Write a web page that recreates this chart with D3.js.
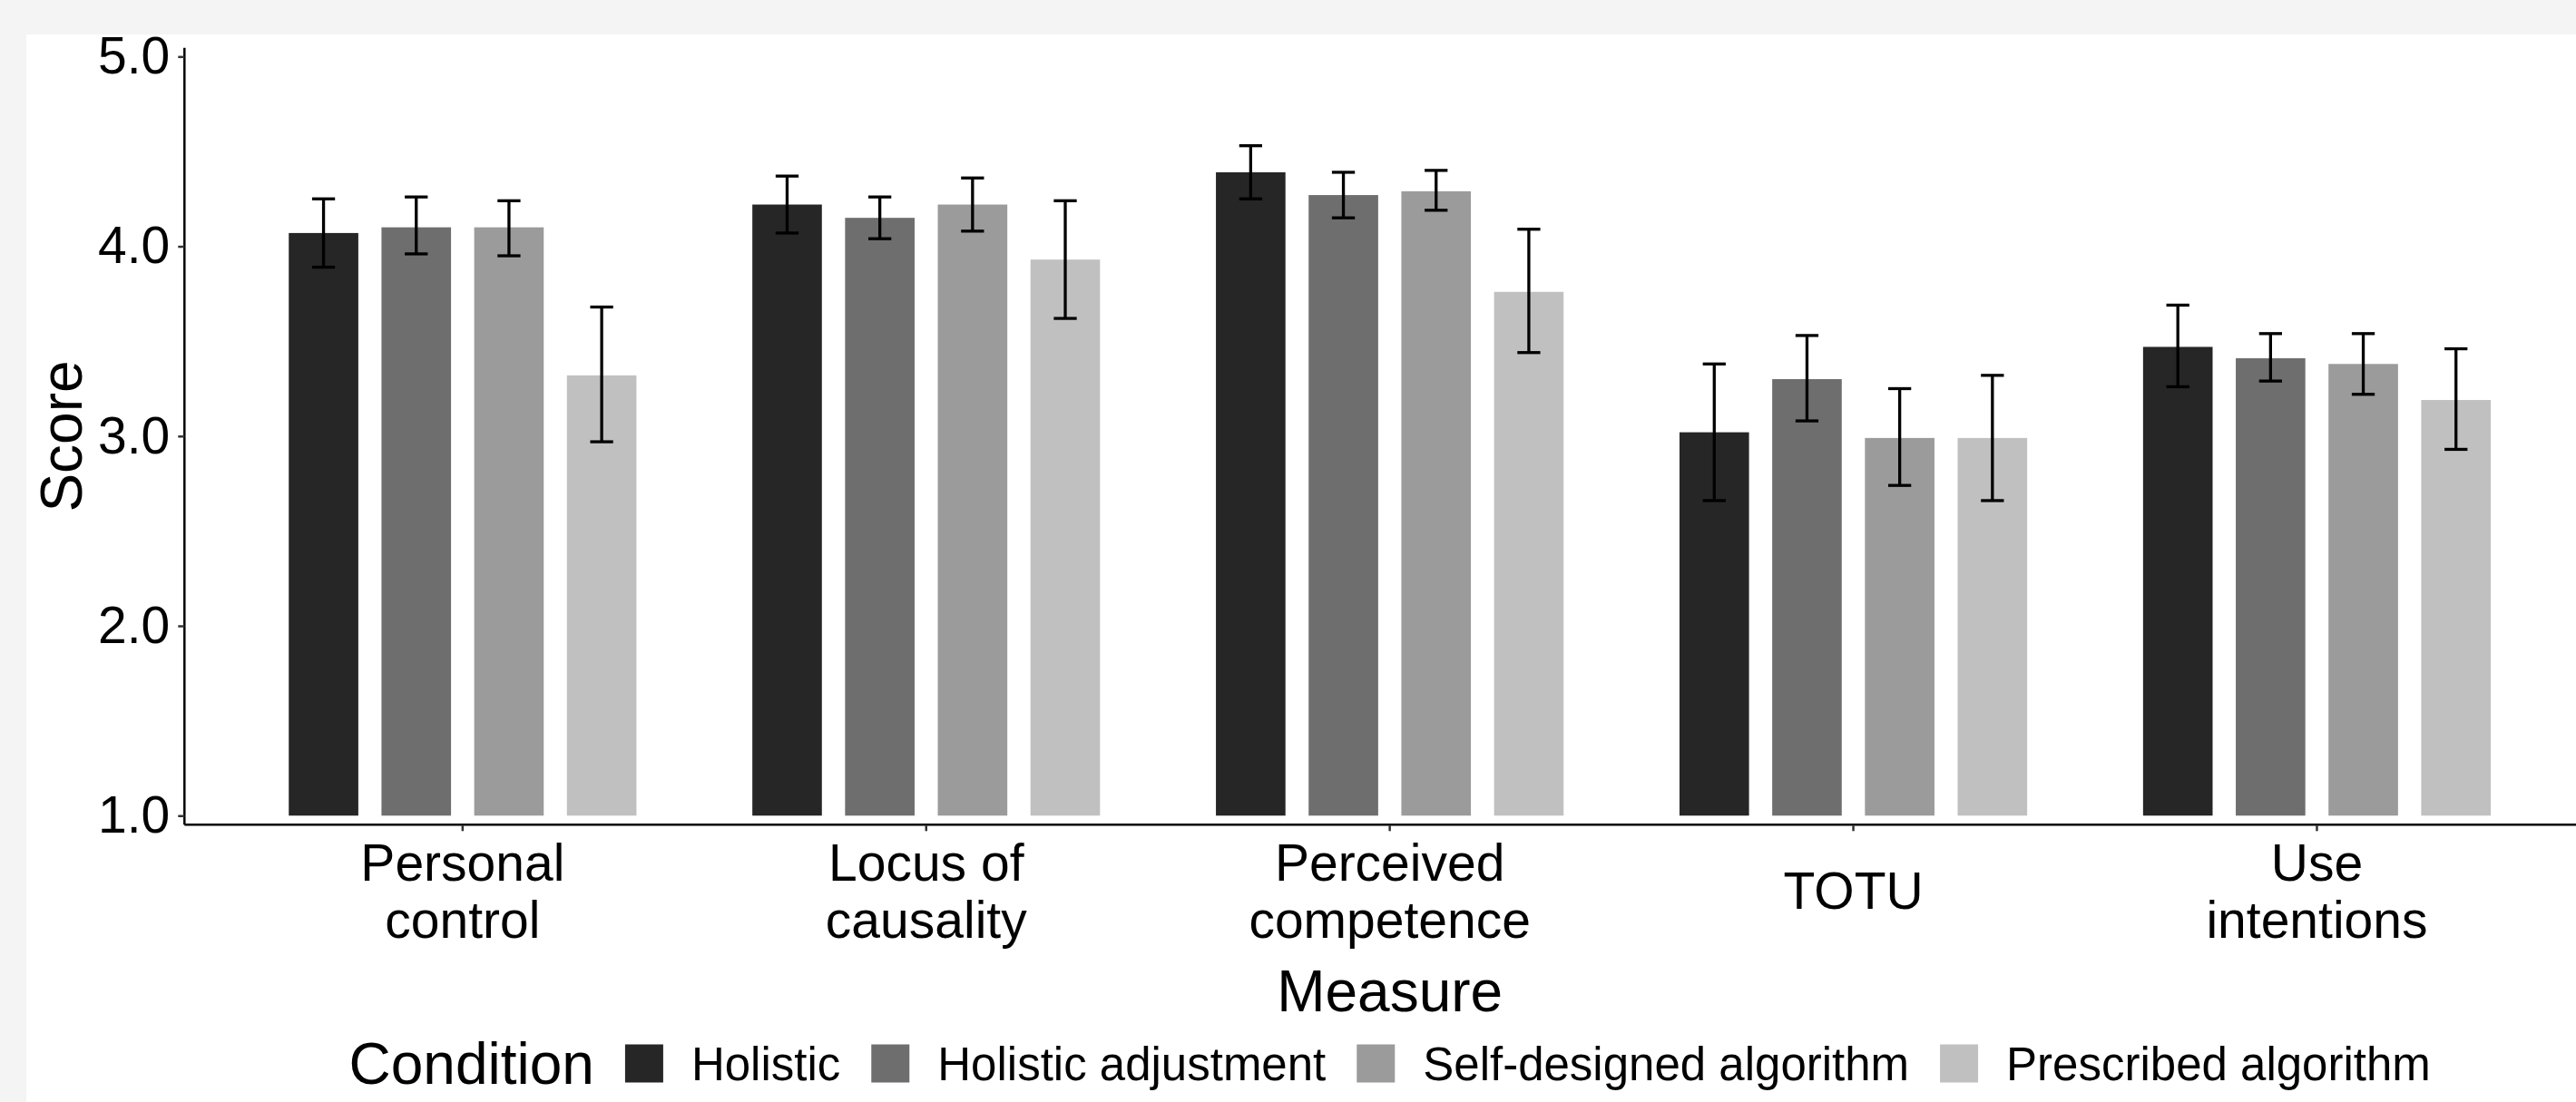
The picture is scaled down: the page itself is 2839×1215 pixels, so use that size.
<!DOCTYPE html>
<html>
<head>
<meta charset="utf-8">
<script src="https://cdn.jsdelivr.net/npm/d3@7"></script>
<style>
  html, body { margin: 0; padding: 0; background: #f4f4f4; overflow: hidden; }
  svg { display: block; }
  text { font-family: "Liberation Sans", Arial, Helvetica, sans-serif; fill: #000; }
</style>
</head>
<body>
<svg id="chart" width="2839" height="1215"></svg>
<script>
// ---- data ----
const measures = ["Personal control", "Locus of causality", "Perceived competence", "TOTU", "Use intentions"];
const measureTickLabels = [["Personal", "control"], ["Locus of", "causality"], ["Perceived", "competence"], ["TOTU"], ["Use", "intentions"]];
const conditions = ["Holistic", "Holistic adjustment", "Self-designed algorithm", "Prescribed algorithm"];
const conditionColors = ["#262626", "#6e6e6e", "#9b9b9b", "#c0c0c0"];

const holisticMean      = [4.07, 4.22, 4.39, 3.02, 3.47];
const holisticLower     = [3.89, 4.07, 4.25, 2.66, 3.26];
const holisticUpper     = [4.25, 4.37, 4.53, 3.38, 3.69];

const adjustmentMean    = [4.10, 4.15, 4.27, 3.30, 3.41];
const adjustmentLower   = [3.96, 4.04, 4.15, 3.08, 3.29];
const adjustmentUpper   = [4.26, 4.26, 4.39, 3.53, 3.54];

const selfDesignedMean  = [4.10, 4.22, 4.29, 2.99, 3.38];
const selfDesignedLower = [3.95, 4.08, 4.19, 2.74, 3.22];
const selfDesignedUpper = [4.24, 4.36, 4.40, 3.25, 3.54];

const prescribedMean    = [3.32, 3.93, 3.76, 2.99, 3.19];
const prescribedLower   = [2.97, 3.62, 3.44, 2.66, 2.93];
const prescribedUpper   = [3.68, 4.24, 4.09, 3.32, 3.46];

const yTicks = [1, 2, 3, 4, 5];
const yTickLabels = ["1.0", "2.0", "3.0", "4.0", "5.0"];
const yTitle = "Score";
const xTitle = "Measure";
const legendTitle = "Condition";

// ---- build records ----
const seriesMeans = [holisticMean, adjustmentMean, selfDesignedMean, prescribedMean];
const seriesLower = [holisticLower, adjustmentLower, selfDesignedLower, prescribedLower];
const seriesUpper = [holisticUpper, adjustmentUpper, selfDesignedUpper, prescribedUpper];
const records = [];
measures.forEach((m, i) => {
  conditions.forEach((c, j) => {
    records.push({ measure: m, condition: c, mean: seriesMeans[j][i], lo: seriesLower[j][i], hi: seriesUpper[j][i], ci: j });
  });
});

// ---- layout ----
const W = 2839, H = 1215;
const svg = d3.select("#chart");
svg.append("rect").attr("x", 0).attr("y", 0).attr("width", W).attr("height", H).attr("fill", "#f4f4f4");
svg.append("rect").attr("x", 29).attr("y", 38).attr("width", W - 29).attr("height", H - 38).attr("fill", "#ffffff");

const plotLeft = 203.3, plotRight = 2860, plotTop = 52.7, plotBottom = 909.3;

const x0 = d3.scaleBand().domain(measures).range([plotLeft, plotRight]).paddingInner(0.2).paddingOuter(0.2);
const x1 = d3.scaleBand().domain(conditions).range([0, x0.bandwidth()]).paddingInner(0.25).paddingOuter(0.125);
const y = d3.scaleLinear().domain([0.952, 5.046]).range([plotBottom, plotTop]);
const color = d3.scaleOrdinal().domain(conditions).range(conditionColors);

// bars
const g = svg.append("g");
g.selectAll("rect.bar").data(records).join("rect")
  .attr("class", "bar")
  .attr("x", d => x0(d.measure) + x1(d.condition))
  .attr("width", x1.bandwidth())
  .attr("y", d => y(d.mean))
  .attr("height", d => y(1) - y(d.mean))
  .attr("fill", d => color(d.condition));

// error bars
const capW = x1.bandwidth() * 0.33;
const eb = g.selectAll("g.err").data(records).join("g").attr("class", "err")
  .attr("transform", d => `translate(${x0(d.measure) + x1(d.condition) + x1.bandwidth() / 2},0)`);
eb.append("line").attr("x1", 0).attr("x2", 0).attr("y1", d => y(d.lo)).attr("y2", d => y(d.hi))
  .attr("stroke", "#000").attr("stroke-width", 3.3);
eb.append("line").attr("x1", -capW / 2).attr("x2", capW / 2).attr("y1", d => y(d.hi)).attr("y2", d => y(d.hi))
  .attr("stroke", "#000").attr("stroke-width", 3.3);
eb.append("line").attr("x1", -capW / 2).attr("x2", capW / 2).attr("y1", d => y(d.lo)).attr("y2", d => y(d.lo))
  .attr("stroke", "#000").attr("stroke-width", 3.3);

// y axis
const yAxis = d3.axisLeft(y).tickValues(yTicks).tickFormat((d, i) => yTickLabels[i]).tickSize(7).tickPadding(9);
const yg = svg.append("g").attr("transform", `translate(${plotLeft},0)`).call(yAxis);
yg.select(".domain").attr("stroke", "#000").attr("stroke-width", 2.5).attr("d", `M0,${plotTop}V${plotBottom}`);
yg.selectAll(".tick line").attr("stroke", "#333").attr("stroke-width", 2.5);
yg.selectAll(".tick text").attr("font-size", 57).attr("font-family", "Liberation Sans, Arial, sans-serif").attr("fill", "#000");

// x axis
const xAxis = d3.axisBottom(x0).tickSize(7).tickFormat("");
const xg = svg.append("g").attr("transform", `translate(0,${plotBottom})`).call(xAxis);
xg.select(".domain").attr("stroke", "#000").attr("stroke-width", 2.5).attr("d", `M${plotLeft},0H${plotRight}`);
xg.selectAll(".tick line").attr("stroke", "#333").attr("stroke-width", 2.5);
xg.selectAll(".tick").each(function (d, i) {
  const lines = measureTickLabels[i];
  const t = d3.select(this).append("text").attr("text-anchor", "middle").attr("font-size", 57).attr("fill", "#000");
  const lh = 63;
  const base = lines.length === 1 ? 93 : 61.5;
  lines.forEach((ln, k) => {
    t.append("tspan").attr("x", 0).attr("y", base + k * lh).text(ln);
  });
});

// axis titles
svg.append("text").attr("transform", `translate(89.5,${(plotTop + plotBottom) / 2}) rotate(-90)`)
  .attr("text-anchor", "middle").attr("font-size", 64).text(yTitle);
svg.append("text").attr("x", (plotLeft + plotRight) / 2).attr("y", 1115)
  .attr("text-anchor", "middle").attr("font-size", 64).text(xTitle);

// legend
const leg = svg.append("g");
const keySize = 42, legCenterY = 1172.5;
let cx = 0;
const ttl = leg.append("text").attr("x", 0).attr("y", legCenterY + 0.358 * 64).attr("font-size", 64).text(legendTitle);
cx = ttl.node().getComputedTextLength() + 34;
conditions.forEach((c, i) => {
  leg.append("rect").attr("x", cx).attr("y", legCenterY - keySize / 2).attr("width", keySize).attr("height", keySize)
    .attr("fill", color(c));
  cx += keySize + 31;
  const t = leg.append("text").attr("x", cx).attr("y", legCenterY + 0.358 * 51).attr("font-size", 51).text(c);
  cx += t.node().getComputedTextLength();
  if (i < conditions.length - 1) cx += 34;
});
const legW = cx;
leg.attr("transform", `translate(${(plotLeft + plotRight) / 2 - legW / 2},0)`);
</script>
</body>
</html>
